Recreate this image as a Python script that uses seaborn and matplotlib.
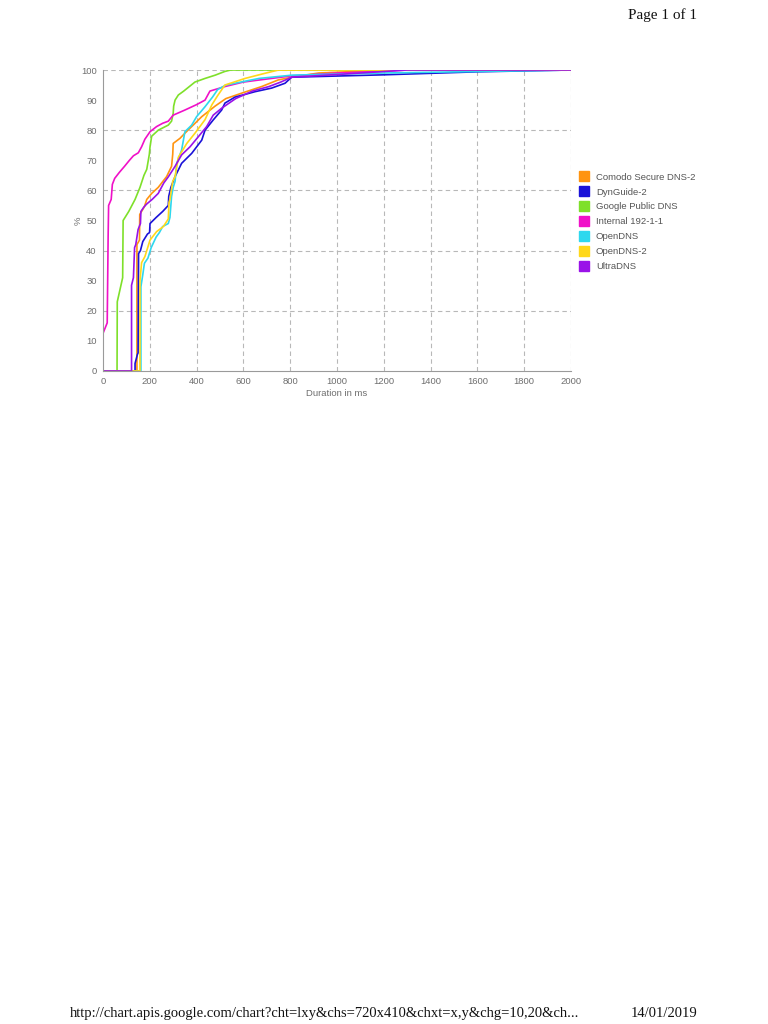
import matplotlib
matplotlib.use("Agg")
import matplotlib.pyplot as plt
import seaborn as sns
import pandas as pd
from matplotlib.lines import Line2D

# ---- data (duration ms, cumulative %) ----
series_names = ["Comodo Secure DNS-2", "DynGuide-2", "Google Public DNS",
                "Internal 192-1-1", "OpenDNS", "OpenDNS-2", "UltraDNS"]
series_colors = ["#FF9410", "#1A12D8", "#7EE02A", "#F010C8", "#2ED8EE", "#FFD81A", "#9A12E8"]

comodo_ms = [0, 145, 145, 156, 157, 177, 187, 208, 236, 272, 293, 298, 300, 329, 350, 379, 422, 479, 525, 600, 678, 749, 820, 922, 1100, 1200, 2000]
comodo_pct = [0, 0, 42, 43.5, 52, 54.6, 57, 59, 61, 64.6, 68, 72, 75.6, 77.3, 79, 81.2, 84.5, 88, 90.5, 92.5, 94.5, 96.7, 97.8, 99, 99.6, 100, 100]

dyn_ms = [0, 137, 137, 147, 150, 152, 160, 170, 190, 199, 201, 227, 255, 279, 281, 290, 308, 336, 379, 422, 436, 471, 507, 521, 564, 650, 721, 778, 806, 1200, 1600, 2000]
dyn_pct = [0, 0, 2.5, 5.5, 6, 39, 40, 43, 45.5, 46, 49, 51, 53, 55, 58, 61, 64.6, 69, 72.3, 76.7, 80, 83.4, 86.7, 89, 91, 92.8, 94, 95.6, 97.6, 98.4, 99.4, 100]

google_ms = [0, 60, 61, 84, 86, 94, 110, 137, 158, 175, 187, 198, 201, 208, 236, 279, 293, 300, 302, 308, 322, 345, 393, 436, 480, 520, 545, 2000]
google_pct = [0, 0, 23, 31, 50, 51, 53, 57, 61, 65, 67, 72, 74.5, 78, 80, 81.7, 83, 85.6, 88, 90, 91.7, 93, 96, 97.2, 98.3, 99.5, 100, 100]

internal_ms = [0, 0, 18, 22, 24, 35, 40, 50, 70, 92, 113, 130, 151, 165, 179, 201, 229, 255, 279, 300, 350, 400, 436, 457, 500, 521, 600, 700, 800, 1000, 1200, 1300, 2000]
internal_pct = [0, 12.5, 16, 45, 55, 57, 62, 64, 66, 68, 70, 71.5, 72.5, 74.5, 77, 79.5, 81.2, 82.3, 83, 85, 86.7, 88.5, 90, 93, 94, 94.5, 96, 97, 98, 99, 99.6, 100, 100]

opendns_ms = [0, 162, 162, 170, 177, 192, 206, 227, 241, 255, 279, 286, 293, 300, 308, 315, 336, 350, 379, 400, 436, 468, 490, 525, 596, 667, 809, 1200, 2000]
opendns_pct = [0, 0, 28, 32, 35.8, 37.5, 41, 44.5, 46, 48, 49, 51, 58, 61, 63, 69, 73.4, 79.5, 81.7, 84.5, 87.8, 91, 93.5, 95, 96.1, 97.2, 98.3, 99, 100]

opendns2_ms = [0, 158, 158, 165, 179, 201, 229, 258, 279, 282, 286, 298, 308, 322, 358, 393, 436, 465, 490, 521, 607, 692, 750, 2000]
opendns2_pct = [0, 0, 30, 36, 38, 43.5, 46.3, 48, 50.5, 56, 57, 63, 64.6, 71, 75.6, 79, 83.5, 88.4, 91.5, 95, 97.2, 98.9, 100, 100]

ultra_ms = [0, 122, 122, 130, 135, 140, 150, 160, 162, 175, 187, 210, 236, 260, 279, 308, 336, 372, 407, 443, 471, 507, 567, 638, 709, 760, 806, 1000, 1300, 2000]
ultra_pct = [0, 0, 28.5, 31, 41, 42, 47, 49, 53, 54.5, 55.5, 57, 59, 62.5, 64.5, 68, 71.8, 74.5, 77.8, 81.2, 85, 87.3, 90.5, 93, 94.5, 96, 97.6, 98.5, 100, 100]

x_ticks = [0, 200, 400, 600, 800, 1000, 1200, 1400, 1600, 1800, 2000]
y_ticks = [0, 10, 20, 30, 40, 50, 60, 70, 80, 90, 100]

all_ms = [comodo_ms, dyn_ms, google_ms, internal_ms, opendns_ms, opendns2_ms, ultra_ms]
all_pct = [comodo_pct, dyn_pct, google_pct, internal_pct, opendns_pct, opendns2_pct, ultra_pct]

rows = []
for name, xs, ys in zip(series_names, all_ms, all_pct):
    for i, (x, y) in enumerate(zip(xs, ys)):
        rows.append({"series": name, "ms": x, "pct": y, "order": i})
df = pd.DataFrame(rows)

sns.set_style("white")
plt.rcParams["font.family"] = ["Liberation Sans", "DejaVu Sans"]

fig = plt.figure(figsize=(7.68, 10.24), dpi=100)
ax = fig.add_axes([103 / 768, 1 - 371 / 1024, 468 / 768, 301 / 1024])

palette = dict(zip(series_names, series_colors))
sns.lineplot(data=df, x="ms", y="pct", hue="series", hue_order=series_names,
             palette=palette, sort=False, estimator=None, units="series",
             linewidth=1.2, ax=ax, legend=False)

ax.set_xlim(0, 2000)
ax.set_ylim(0, 100)
ax.set_xticks(x_ticks)
ax.set_yticks(y_ticks)
ax.set_xticklabels([str(v) for v in x_ticks])
ax.set_yticklabels([str(v) for v in y_ticks])

grid_kw = dict(color="#b8b8b8", linewidth=0.8, linestyle=(0, (4, 3)), zorder=0)
for v in range(200, 2001, 200):
    ax.axvline(v, **grid_kw)
for v in range(20, 101, 20):
    ax.axhline(v, **grid_kw)

for s in ["top", "right"]:
    ax.spines[s].set_visible(False)
for s in ["left", "bottom"]:
    ax.spines[s].set_color("#9a9a9a")
    ax.spines[s].set_linewidth(0.8)
ax.tick_params(axis="both", which="major", length=3, width=0.7, color="#9a9a9a",
               labelsize=6.8, labelcolor="#6e6e6e", pad=1.5, direction="out")

ax.set_xlabel("Duration in ms", fontsize=6.8, color="#6e6e6e", labelpad=2)
ax.set_ylabel("%", fontsize=6.8, color="#6e6e6e")
ax.yaxis.set_label_coords(-20 / 468, 0.5)
ax.set_facecolor("white")

handles = [Line2D([0], [0], marker="s", linestyle="none", markersize=6.5,
                  markerfacecolor=c, markeredgecolor=c) for c in series_colors]
leg = fig.legend(handles, series_names, loc="upper left",
                 bbox_to_anchor=(576 / 768, 1 - 169 / 1024), frameon=False,
                 fontsize=6.8, handlelength=0.9, handletextpad=0.8,
                 labelspacing=0.62, borderaxespad=0)
for t in leg.get_texts():
    t.set_color("#555555")

serif = ["Liberation Serif", "DejaVu Serif"]
fig.text(697 / 768, 1 - 8 / 1024, "Page 1 of 1", ha="right", va="top",
         fontsize=11, family=serif, color="#111111")
fig.text(70 / 768, 1 - 1017 / 1024,
         "http://chart.apis.google.com/chart?cht=lxy&chs=720x410&chxt=x,y&chg=10,20&ch...",
         ha="left", va="baseline", fontsize=10.5, family=serif, color="#111111")
fig.text(697 / 768, 1 - 1017 / 1024, "14/01/2019", ha="right", va="baseline",
         fontsize=10.5, family=serif, color="#111111")

fig.savefig("out.png", dpi=100)
